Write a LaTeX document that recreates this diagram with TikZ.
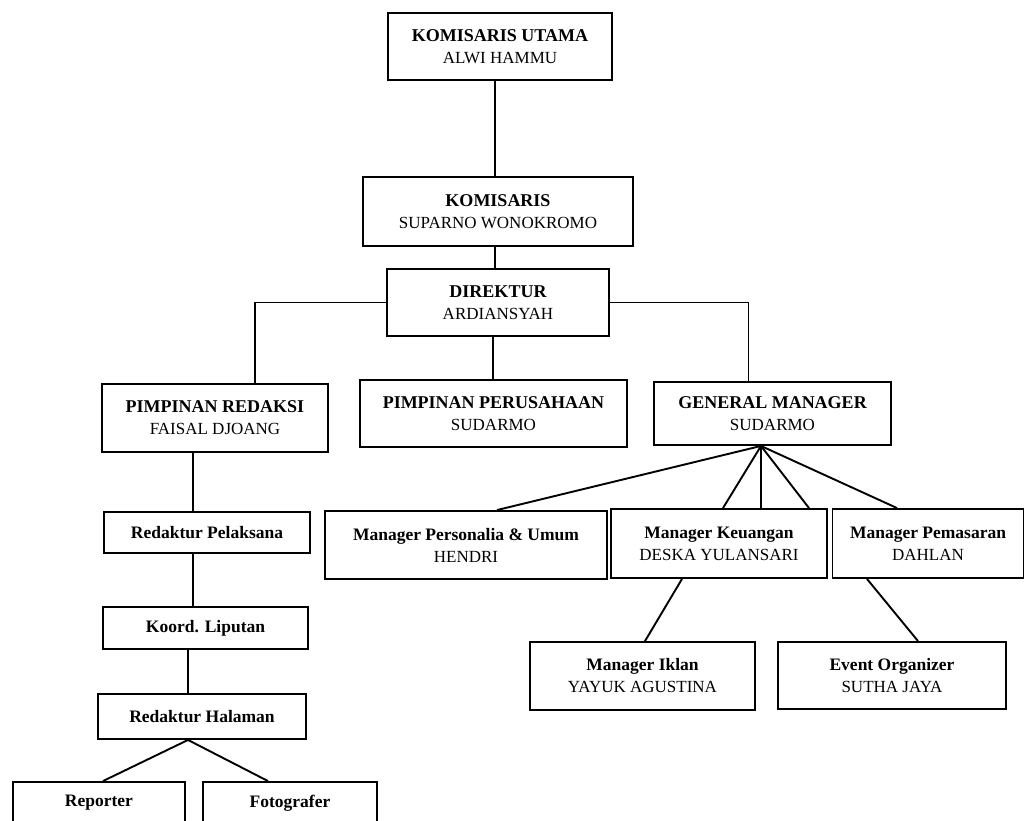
\documentclass[tikz,border=0pt]{standalone}
\usepackage{fontspec}
\setmainfont{Liberation Serif}
\newcommand{\ttlbold}[1]{{\fontsize{18}{22}\selectfont\bfseries #1}}
\newcommand{\smbold}[1]{{\fontsize{17.5}{22}\selectfont\bfseries #1}}
\begin{document}
\begin{tikzpicture}[x=1pt,y=-1pt,
  box/.style={draw=black,line width=1.9pt,fill=white,align=center,inner sep=0pt,
    font=\fontsize{17}{22}\selectfont},
  sbox/.style={box},
  conn/.style={line width=1.9pt}]
\useasboundingbox (0,0) rectangle (1026,820);
\fill[white] (0,0) rectangle (1026,820);
% boxes
\node[box,minimum width=224,minimum height=67] (utama) at (500,46.5) {\ttlbold{KOMISARIS UTAMA}\\ALWI HAMMU};
\node[box,minimum width=270,minimum height=69] (kom) at (498,211.5) {\ttlbold{KOMISARIS}\\SUPARNO WONOKROMO};
\node[box,minimum width=222,minimum height=67] (dir) at (498,302.5) {\ttlbold{DIREKTUR}\\ARDIANSYAH};
\node[box,minimum width=226,minimum height=68] (pr) at (215,418) {\ttlbold{PIMPINAN REDAKSI}\\FAISAL DJOANG};
\node[box,minimum width=267,minimum height=67] (pp) at (493.5,413.5) {\ttlbold{PIMPINAN PERUSAHAAN}\\SUDARMO};
\node[box,minimum width=237,minimum height=63] (gm) at (772.5,413.5) {\ttlbold{GENERAL MANAGER}\\SUDARMO};
\node[sbox,minimum width=206,minimum height=41] (rp) at (207,532.5) {\smbold{Redaktur Pelaksana}};
\node[sbox,minimum width=205,minimum height=42] (kl) at (205.5,628) {\smbold{Koord. Liputan}};
\node[sbox,minimum width=208,minimum height=45] (rh) at (202,716.5) {\smbold{Redaktur Halaman}};
\node[sbox,minimum width=172,minimum height=42] (rep) at (99,803) {\smbold{Reporter}};
\node[sbox,minimum width=174,minimum height=42] (foto) at (290,803) {\smbold{Fotografer}};
\node[sbox,minimum width=282,minimum height=68] (mpu) at (466,545) {\smbold{Manager Personalia \& Umum}\\HENDRI};
\node[sbox,minimum width=216,minimum height=69] (mk) at (719,543.5) {\smbold{Manager Keuangan}\\DESKA YULANSARI};
\node[sbox,minimum width=191,minimum height=69] (mpm) at (928,543.5) {\smbold{Manager Pemasaran}\\DAHLAN};
\node[sbox,minimum width=225,minimum height=68] (mi) at (642.5,676) {\smbold{Manager Iklan}\\YAYUK AGUSTINA};
\node[sbox,minimum width=228,minimum height=67] (eo) at (892,675.5) {\smbold{Event Organizer}\\SUTHA JAYA};
% helper coordinates
\coordinate (colA) at (193,0);
\coordinate (colB) at (188,0);
% connectors
\draw[conn] ([xshift=-5pt]utama.south) -- ([xshift=-3pt]kom.north);
\draw[conn] ([xshift=-3pt]kom.south) -- ([xshift=-3pt]dir.north);
\draw[conn] (dir.west) -| ([xshift=40pt]pr.north);
\draw[conn] (dir.east) -| ([xshift=-24pt]gm.north);
\draw[conn] ([xshift=-5pt]dir.south) -- ([xshift=-0.5pt]pp.north);
\draw[conn] (pr.south -| colA) -- (rp.north -| colA);
\draw[conn] (rp.south -| colA) -- (kl.north -| colA);
\draw[conn] (kl.south -| colB) -- (rh.north -| colB);
\draw[conn] ([xshift=-14pt]rh.south) -- ([xshift=4pt]rep.north);
\draw[conn] ([xshift=-14pt]rh.south) -- ([xshift=-22pt]foto.north);
\draw[conn] ([xshift=-11.5pt]gm.south) -- ([xshift=31pt]mpu.north);
\draw[conn] ([xshift=-11.5pt]gm.south) -- ([xshift=4pt]mk.north);
\draw[conn] ([xshift=-11.5pt]gm.south) -- ([xshift=42pt]mk.north);
\draw[conn] ([xshift=-11.5pt]gm.south) -- ([xshift=90pt]mk.north);
\draw[conn] ([xshift=-11.5pt]gm.south) -- ([xshift=-31pt]mpm.north);
\draw[conn] ([xshift=-37pt]mk.south) -- ([xshift=2.5pt]mi.north);
\draw[conn] ([xshift=-61pt]mpm.south) -- ([xshift=26pt]eo.north);
\end{tikzpicture}
\end{document}
